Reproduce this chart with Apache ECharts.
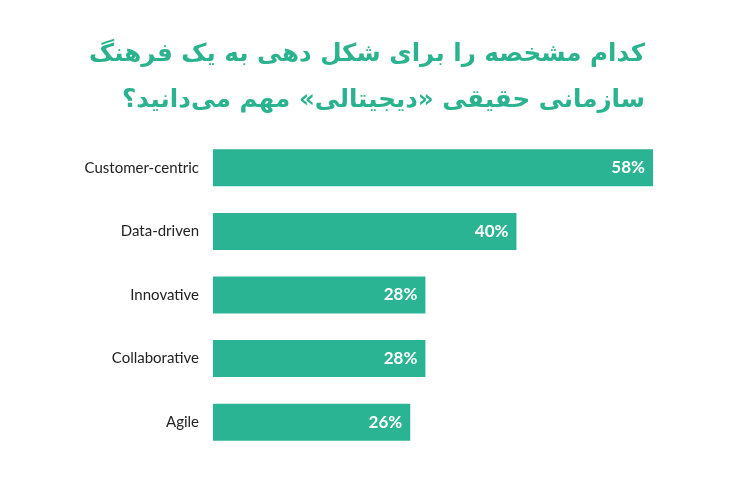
<!DOCTYPE html>
<html><head><meta charset="utf-8">
<script src="https://cdn.jsdelivr.net/npm/echarts@6/dist/echarts.min.js"></script>
<style>html,body{margin:0;padding:0;background:#fff}#c{width:740px;height:480px}</style>
</head><body><div id="c"></div>
<script>
const titleLines = ['كدام مشخصه را براى شكل دهى به يک فرهنگ', 'سازمانى حقيقى «ديجيتالى» مهم مى‌دانيد؟'];
const categories = ['Customer-centric', 'Data-driven', 'Innovative', 'Collaborative', 'Agile'];
const values = [58, 40, 28, 28, 26];

const chart = echarts.init(document.getElementById('c'));
chart.setOption({
  animation: false,
  backgroundColor: '#ffffff',
  title: [
    { text: titleLines[0], right: 90, top: 37, textStyle: { color: '#2bb38f', fontSize: 24.6, fontWeight: 'bold', fontFamily: 'DejaVu Sans' } },
    { text: titleLines[1], right: 90, top: 83, textStyle: { color: '#2bb38f', fontSize: 24.6, fontWeight: 'bold', fontFamily: 'DejaVu Sans' } }
  ],
  grid: { left: 213, right: 87, top: 136, bottom: 26, containLabel: false },
  xAxis: { type: 'value', min: 0, max: 58, show: false },
  yAxis: {
    type: 'category', data: categories, inverse: true,
    axisLine: { show: false }, axisTick: { show: false },
    axisLabel: { color: '#222', fontSize: 15, fontFamily: 'Lato', margin: 14 }
  },
  series: [{
    type: 'bar', data: values, barWidth: 37,
    itemStyle: { color: '#2bb493' },
    label: { show: true, position: 'insideRight', formatter: '{c}%', color: '#fff', fontSize: 17, fontWeight: 'bold', fontFamily: 'Lato', distance: 8 }
  }]
});
</script></body></html>
